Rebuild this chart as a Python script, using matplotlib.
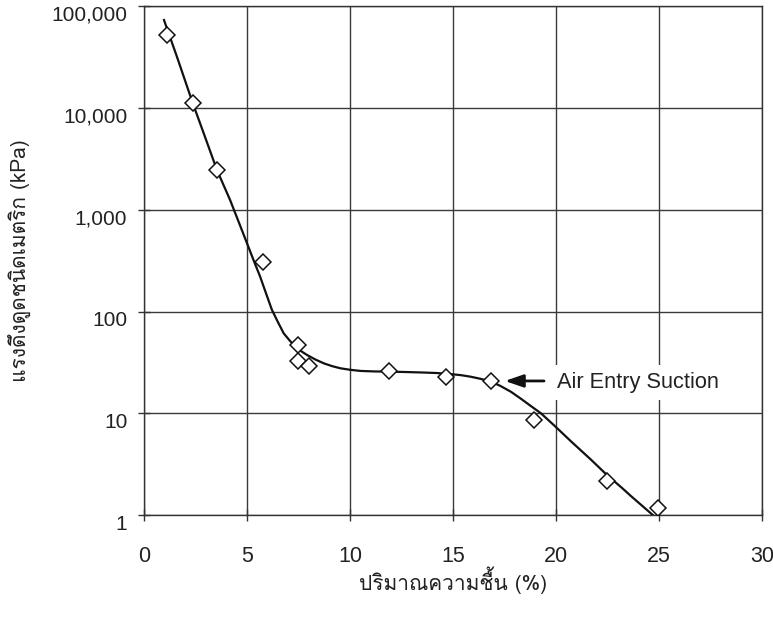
import matplotlib
matplotlib.use("Agg")
import matplotlib.pyplot as plt
import matplotlib.transforms as mtransforms
from matplotlib import font_manager
from fontTools.ttLib import TTFont

# pick an installed font that can draw Thai
def thai_family():
    for f in font_manager.fontManager.ttflist:
        try:
            tt = TTFont(f.fname, fontNumber=0, lazy=True)
            cmap = tt.getBestCmap()
            if cmap and 0x0E21 in cmap and 0x0E34 in cmap:
                return f.name
        except Exception:
            continue
    return None

thai = thai_family()
fams = ([thai] if thai else []) + ["Liberation Sans", "DejaVu Sans"]
plt.rcParams["font.family"] = ["Liberation Sans", "DejaVu Sans"]

# measured points: moisture content (%) vs matric suction (kPa)
moisture = [1.10, 2.40, 3.54, 5.78, 7.48, 7.46, 8.03, 11.89, 14.68, 16.87, 18.94, 22.48, 24.95]
suction = [52400, 11200, 2470, 310, 47, 32.9, 29.2, 26.0, 22.6, 20.8, 8.6, 2.17, 1.16]

# fitted curve
fit_x = [0.97, 1.60, 2.37, 2.95, 3.54, 4.18, 4.75, 5.00, 5.32, 5.64, 5.93, 6.21, 6.50,
         6.78, 7.07, 7.35, 7.63, 7.92, 8.32, 8.73, 9.13, 9.54, 10.0, 10.51, 11.2,
         11.81, 12.6, 13.5, 14.2, 14.89, 15.4, 15.86, 16.35, 16.84, 17.3, 17.81, 18.3,
         18.78, 19.27, 19.95, 20.73, 21.70, 22.48, 23.2, 23.65, 24.25, 24.7]
fit_y = [73600, 32000, 11170, 5300, 2470, 1250, 634, 470, 320, 220, 150, 104, 79,
         61.2, 52.0, 45.2, 40.8, 37.4, 33.8, 31.0, 29.1, 27.7, 26.8, 26.1, 25.8,
         25.7, 25.5, 25.2, 24.9, 24.3, 23.7, 22.9, 21.8, 20.5, 18.6, 16.3, 13.9,
         11.8, 10.0, 7.48, 5.3, 3.5, 2.47, 1.85, 1.53, 1.2, 1.0]

yticks = [1, 10, 100, 1000, 10000, 100000]
ylabels = ["1", "10", "100", "1,000", "10,000", "100,000"]
xticks = [0, 5, 10, 15, 20, 25, 30]

fig = plt.figure(figsize=(7.73, 6.19), dpi=100)
ax = fig.add_axes([0.1863, 0.168, 0.7994, 0.8215])
ax.set_yscale("log")
ax.set_xlim(0, 30)
ax.set_ylim(1, 100000)

ax.plot(fit_x, fit_y, color="#111111", lw=1.6, zorder=3, solid_joinstyle="round")
ax.plot(moisture, suction, ls="none", marker="D", ms=8, mfc="white",
        mec="#111111", mew=1.1, zorder=4)

ax.set_xticks(xticks)
ax.set_xticklabels([str(t) for t in xticks], fontsize=15.5)
ax.set_yticks(yticks)
ax.set_yticklabels(ylabels, fontsize=15)
ax.minorticks_off()
ax.tick_params(axis="both", direction="inout", length=8, width=1, color="#333333",
               labelcolor="#222222")
ax.tick_params(axis="x", pad=18)
ax.tick_params(axis="y", pad=8)
# y labels sit a little below their ticks
shift = mtransforms.ScaledTranslation(0, -7 / 100, fig.dpi_scale_trans)
for lab in ax.get_yticklabels():
    lab.set_transform(lab.get_transform() + shift)

ax.grid(True, color="#3a3a3a", lw=1)
for s in ax.spines.values():
    s.set_color("#333333")
    s.set_linewidth(1)

ax.set_xlabel("ปริมาณความชื้น (%)", family=fams, fontsize=15, color="#222222", labelpad=0)
ax.set_ylabel("แรงดึงดูดชนิดเมตริก (kPa)", family=fams, fontsize=15, color="#222222", labelpad=15)

ax.text(20.05, 19.9, "Air Entry Suction", fontsize=15.7, color="#222222", va="center",
        ha="left", zorder=5,
        bbox=dict(facecolor="white", edgecolor="none", pad=5))
ax.annotate("", xy=(17.52, 20.8), xytext=(19.42, 20.8),
            arrowprops=dict(arrowstyle="-|>,head_length=1.1,head_width=0.38",
                            color="#111111", lw=2.0, shrinkA=0, shrinkB=0), zorder=6)

fig.savefig("out.png", dpi=100)
